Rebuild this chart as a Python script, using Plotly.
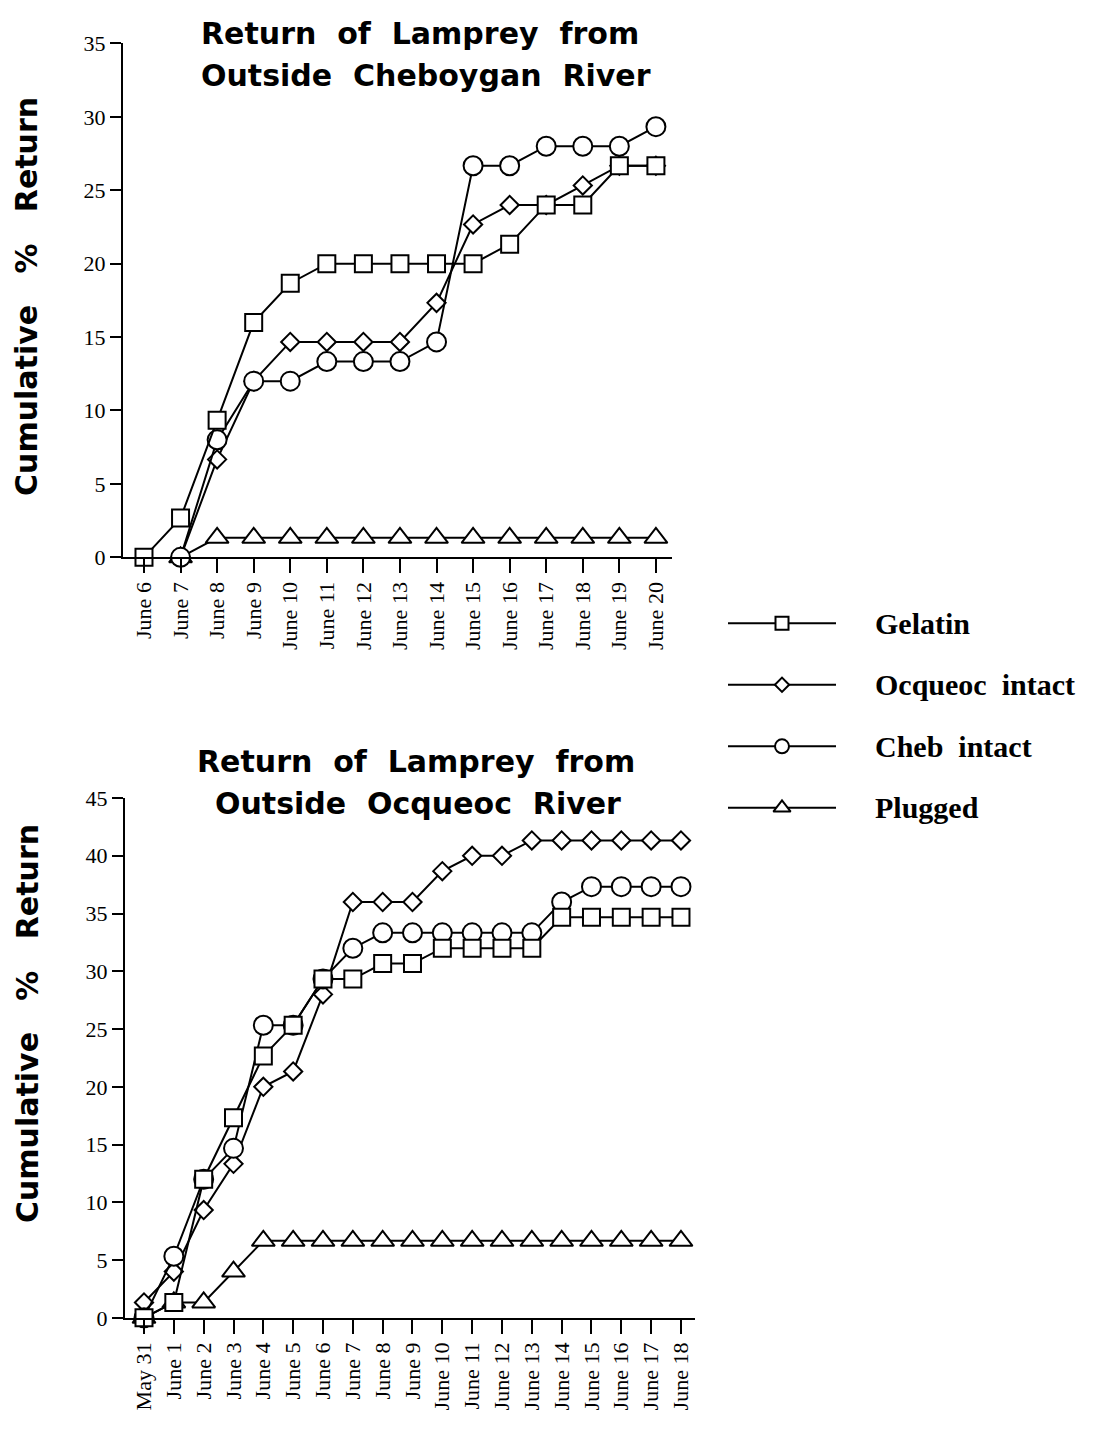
import plotly.graph_objects as go

# ---------------- data ----------------
top_dates = ["June 6", "June 7", "June 8", "June 9", "June 10", "June 11", "June 12",
             "June 13", "June 14", "June 15", "June 16", "June 17", "June 18", "June 19", "June 20"]
top_gelatin = [0, 2.67, 9.33, 16, 18.67, 20, 20, 20, 20, 20, 21.33, 24, 24, 26.67, 26.67]
top_ocqueoc = [None, 0, 6.67, 12, 14.67, 14.67, 14.67, 14.67, 17.33, 22.67, 24, 24, 25.33, 26.67, 26.67]
top_cheb = [None, 0, 8, 12, 12, 13.33, 13.33, 13.33, 14.67, 26.67, 26.67, 28, 28, 28, 29.33]
top_plugged = [None, 0, 1.33, 1.33, 1.33, 1.33, 1.33, 1.33, 1.33, 1.33, 1.33, 1.33, 1.33, 1.33, 1.33]

bot_dates = ["May 31", "June 1", "June 2", "June 3", "June 4", "June 5", "June 6", "June 7",
             "June 8", "June 9", "June 10", "June 11", "June 12", "June 13", "June 14",
             "June 15", "June 16", "June 17", "June 18"]
bot_gelatin = [0, 1.33, 12, 17.33, 22.67, 25.33, 29.33, 29.33, 30.67, 30.67, 32, 32, 32, 32,
               34.67, 34.67, 34.67, 34.67, 34.67]
bot_ocqueoc = [1.33, 4, 9.33, 13.33, 20, 21.33, 28, 36, 36, 36, 38.67, 40, 40, 41.33,
               41.33, 41.33, 41.33, 41.33, 41.33]
bot_cheb = [0, 5.33, 12, 14.67, 25.33, 25.33, 29.33, 32, 33.33, 33.33, 33.33, 33.33, 33.33,
            33.33, 36, 37.33, 37.33, 37.33, 37.33]
bot_plugged = [0, 1.33, 1.33, 4, 6.67, 6.67, 6.67, 6.67, 6.67, 6.67, 6.67, 6.67, 6.67, 6.67,
               6.67, 6.67, 6.67, 6.67, 6.67]

series_names = ["Gelatin", "Ocqueoc intact", "Cheb intact", "Plugged"]
top_title = ["Return\u00a0 of\u00a0 Lamprey\u00a0 from",
             "Outside\u00a0 Cheboygan\u00a0 River"]
bot_title = ["Return\u00a0 of\u00a0 Lamprey\u00a0 from",
             "Outside\u00a0 Ocqueoc\u00a0 River"]
y_title = "Cumulative\u00a0\u00a0 %\u00a0\u00a0 Return"
top_yticks = [0, 5, 10, 15, 20, 25, 30, 35]
bot_yticks = [0, 5, 10, 15, 20, 25, 30, 35, 40, 45]

# ---------------- styling ----------------
W, H = 1106, 1433
symbols = {"Gelatin": "square", "Ocqueoc intact": "diamond",
           "Cheb intact": "circle", "Plugged": "triangle-up"}
sizes = {"Gelatin": 17, "Ocqueoc intact": 14, "Cheb intact": 19, "Plugged": 20}
leg_sizes = {"Gelatin": 13, "Ocqueoc intact": 11, "Cheb intact": 14, "Plugged": 15}
draw_order = ["Plugged", "Ocqueoc intact", "Cheb intact", "Gelatin"]

def px_x(p):
    return p / W

def px_y(p):
    return 1 - p / H

fig = go.Figure()

top_data = {"Gelatin": top_gelatin, "Ocqueoc intact": top_ocqueoc,
            "Cheb intact": top_cheb, "Plugged": top_plugged}
bot_data = {"Gelatin": bot_gelatin, "Ocqueoc intact": bot_ocqueoc,
            "Cheb intact": bot_cheb, "Plugged": bot_plugged}

for name in draw_order:
    fig.add_trace(go.Scatter(
        x=top_dates, y=top_data[name], xaxis="x", yaxis="y",
        mode="lines+markers", name=name, showlegend=False, cliponaxis=False,
        line=dict(color="black", width=2),
        marker=dict(symbol=symbols[name], size=sizes[name], color="white",
                    line=dict(color="black", width=2)),
    ))
for name in draw_order:
    fig.add_trace(go.Scatter(
        x=bot_dates, y=bot_data[name], xaxis="x2", yaxis="y2",
        mode="lines+markers", name=name, showlegend=False, cliponaxis=False,
        line=dict(color="black", width=2),
        marker=dict(symbol=symbols[name], size=sizes[name], color="white",
                    line=dict(color="black", width=2)),
    ))

# legend drawn on its own hidden axis
for i, name in enumerate(series_names):
    fig.add_trace(go.Scatter(
        x=[0, 2], y=[i, i], xaxis="x3", yaxis="y3", mode="lines",
        showlegend=False, cliponaxis=False, line=dict(color="black", width=2),
    ))
    fig.add_trace(go.Scatter(
        x=[1], y=[i], xaxis="x3", yaxis="y3", mode="markers",
        showlegend=False, cliponaxis=False,
        marker=dict(symbol=symbols[name], size=leg_sizes[name], color="white",
                    line=dict(color="black", width=2)),
    ))

tick_font = dict(family="Liberation Serif, Times New Roman, serif", size=22, color="black")

xaxis_common = dict(type="category", showline=True, linecolor="black", linewidth=2,
                    ticks="outside", ticklen=14, tickwidth=2, tickcolor="black",
                    tickangle=-90, tickfont=tick_font, showgrid=False, zeroline=False)
yaxis_common = dict(showline=True, linecolor="black", linewidth=2,
                    ticks="outside", ticklen=11, tickwidth=1.5, tickcolor="black",
                    tickfont=tick_font, showgrid=False, zeroline=False)

row_gap = (810 - 622) / 3.0
fig.update_layout(
    width=W, height=H,
    margin=dict(l=0, r=0, t=0, b=0),
    paper_bgcolor="white", plot_bgcolor="white",
    showlegend=False,
    xaxis=dict(**xaxis_common, domain=[px_x(123), px_x(672)], range=[-0.574, 14.44],
               anchor="y"),
    yaxis=dict(**yaxis_common, domain=[px_y(555), px_y(32)], range=[0, 35],
               tickvals=top_yticks, anchor="x"),
    xaxis2=dict(**xaxis_common, domain=[px_x(125), px_x(695)], range=[-0.637, 18.47],
                anchor="y2"),
    yaxis2=dict(**yaxis_common, domain=[px_y(1329), px_y(800)], range=[0, 45],
                tickvals=bot_yticks, anchor="x2"),
    xaxis3=dict(domain=[px_x(728), px_x(836)], range=[0, 2], visible=False, anchor="y3"),
    yaxis3=dict(domain=[px_y(810 + row_gap / 2), px_y(622 - row_gap / 2)],
                range=[3.5, -0.5], visible=False, anchor="x3"),
)

title_font = dict(family="DejaVu Sans, Arial, sans-serif", size=30, color="black")
annotations = []
for txt, yy, xx in [(top_title[0], 22, 420), (top_title[1], 65, 426),
                    (bot_title[0], 763, 416), (bot_title[1], 806, 418)]:
    annotations.append(dict(text="<b>" + txt + "</b>", x=px_x(xx), y=px_y(yy),
                            xref="paper", yref="paper", xanchor="center", yanchor="middle",
                            showarrow=False, font=title_font))
for yy in [290, 1030]:
    annotations.append(dict(text="<b>" + y_title + "</b>", x=px_x(27), y=px_y(yy),
                            xref="paper", yref="paper", xanchor="center", yanchor="middle",
                            textangle=-90, showarrow=False,
                            font=dict(family="DejaVu Sans, Arial, sans-serif", size=30,
                                      color="black")))
for i, name in enumerate(series_names):
    annotations.append(dict(text="<b>" + name.replace(" ", "\u00a0 ") + "</b>",
                            x=px_x(873), y=i, xref="paper", yref="y3",
                            xanchor="left", yanchor="middle", showarrow=False,
                            font=dict(family="Liberation Serif, Times New Roman, serif",
                                      size=30, color="black")))
fig.update_layout(annotations=annotations)

fig.write_html("out.html")
